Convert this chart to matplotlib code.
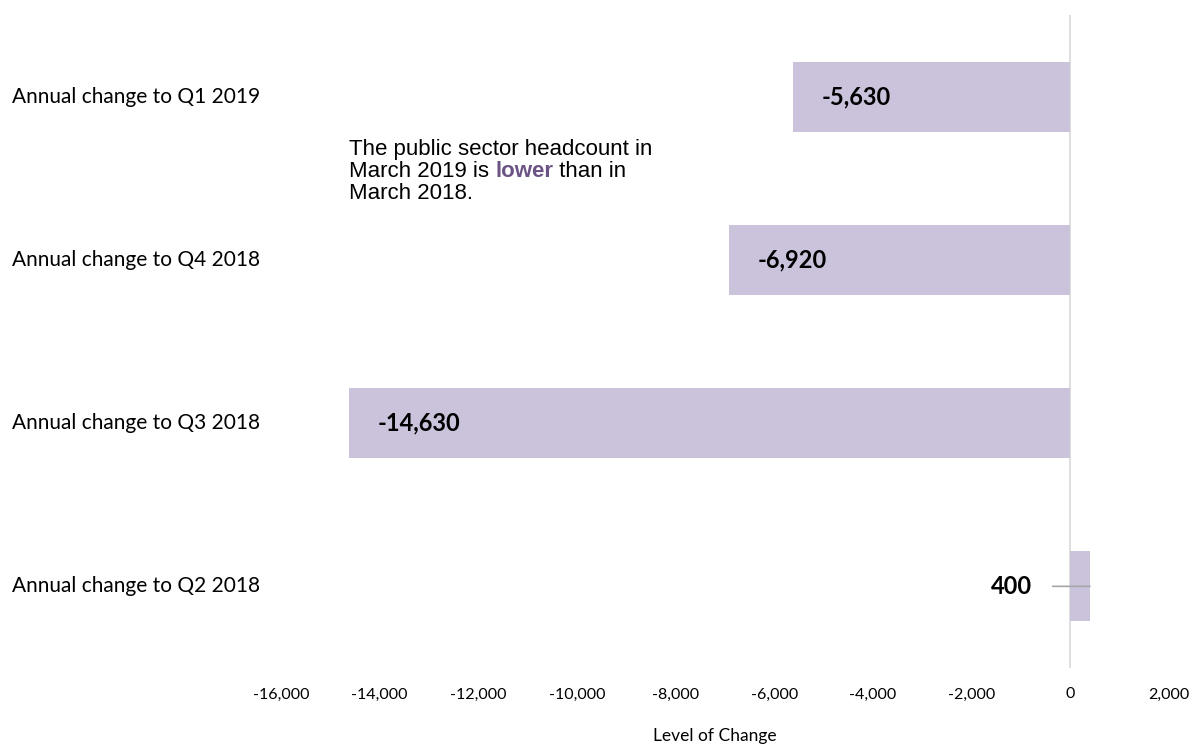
import matplotlib
matplotlib.use("Agg")
import matplotlib.pyplot as plt
import matplotlib.transforms as mtransforms

# annual change in public sector headcount, bottom to top
categories = ["Annual change to Q2 2018", "Annual change to Q3 2018",
              "Annual change to Q4 2018", "Annual change to Q1 2019"]
changes = [400, -14630, -6920, -5630]
value_labels = ["400", "-14,630", "-6,920", "-5,630"]
xticks = list(range(-16000, 2001, 2000))

bar_col = "#cbc3dc"
purple = "#6b5485"
label_font = "Lato"

fig = plt.figure(figsize=(11.92, 7.45), dpi=100)
ax = fig.add_axes([0.2357, 0.1034, 0.745, 0.8765])

ypos = list(range(len(categories)))
ax.barh(ypos, changes, height=0.43, color=bar_col, zorder=2)
ax.axvline(0, color="#d9d9d9", lw=1.2, zorder=1)

ax.set_xlim(-16000, 2000)
ax.set_ylim(-0.5, 3.5)
ax.set_xticks(xticks)
ax.set_xticklabels([f"{t:,}" for t in xticks], fontsize=11.5, family=label_font)
ax.tick_params(axis="x", length=0, pad=14)
ax.set_yticks([])
for s in ax.spines.values():
    s.set_visible(False)

# category names sit at the far left of the figure
trans = mtransforms.blended_transform_factory(fig.transFigure, ax.transData)
for y, name in zip(ypos, categories):
    ax.text(0.010, y, name, transform=trans, ha="left", va="center",
            fontsize=15, family=label_font)

# value labels
for y, v, lab in zip(ypos, changes, value_labels):
    if v < 0:
        ax.annotate(lab, (v, y), xytext=(21, 0), textcoords="offset points",
                    ha="left", va="center", fontsize=17, fontweight="bold",
                    family=label_font, zorder=3)
    else:
        ax.annotate(lab, (v, y), xytext=(-42, 0), textcoords="offset points",
                    ha="right", va="center", fontsize=17, fontweight="bold",
                    family=label_font, zorder=3)
        ax.annotate("", (v, y), xytext=(-27, 0), textcoords="offset points",
                    arrowprops=dict(arrowstyle="-", color="#a6a6a6", lw=1.2,
                                    shrinkA=0, shrinkB=0), zorder=3)

# note about the headcount
note = dict(fontsize=16, family="Liberation Sans")
t1 = fig.text(0.2928, 0.792, "The public sector headcount in", va="baseline", **note)
t2 = fig.text(0.2928, 0.7625, "March 2019 is ", va="baseline", **note)
t3 = ax.annotate("lower", xy=(1, 0), xycoords=t2, va="bottom", ha="left",
                 color=purple, fontweight="bold", **note)
ax.annotate(" than in", xy=(1, 0), xycoords=t3, va="bottom", ha="left", **note)
fig.text(0.2928, 0.733, "March 2018.", va="baseline", **note)

fig.text(0.6, 0.002, "Level of Change", ha="center", va="bottom",
         fontsize=12.5, family=label_font)

fig.savefig("out.png", dpi=100)
